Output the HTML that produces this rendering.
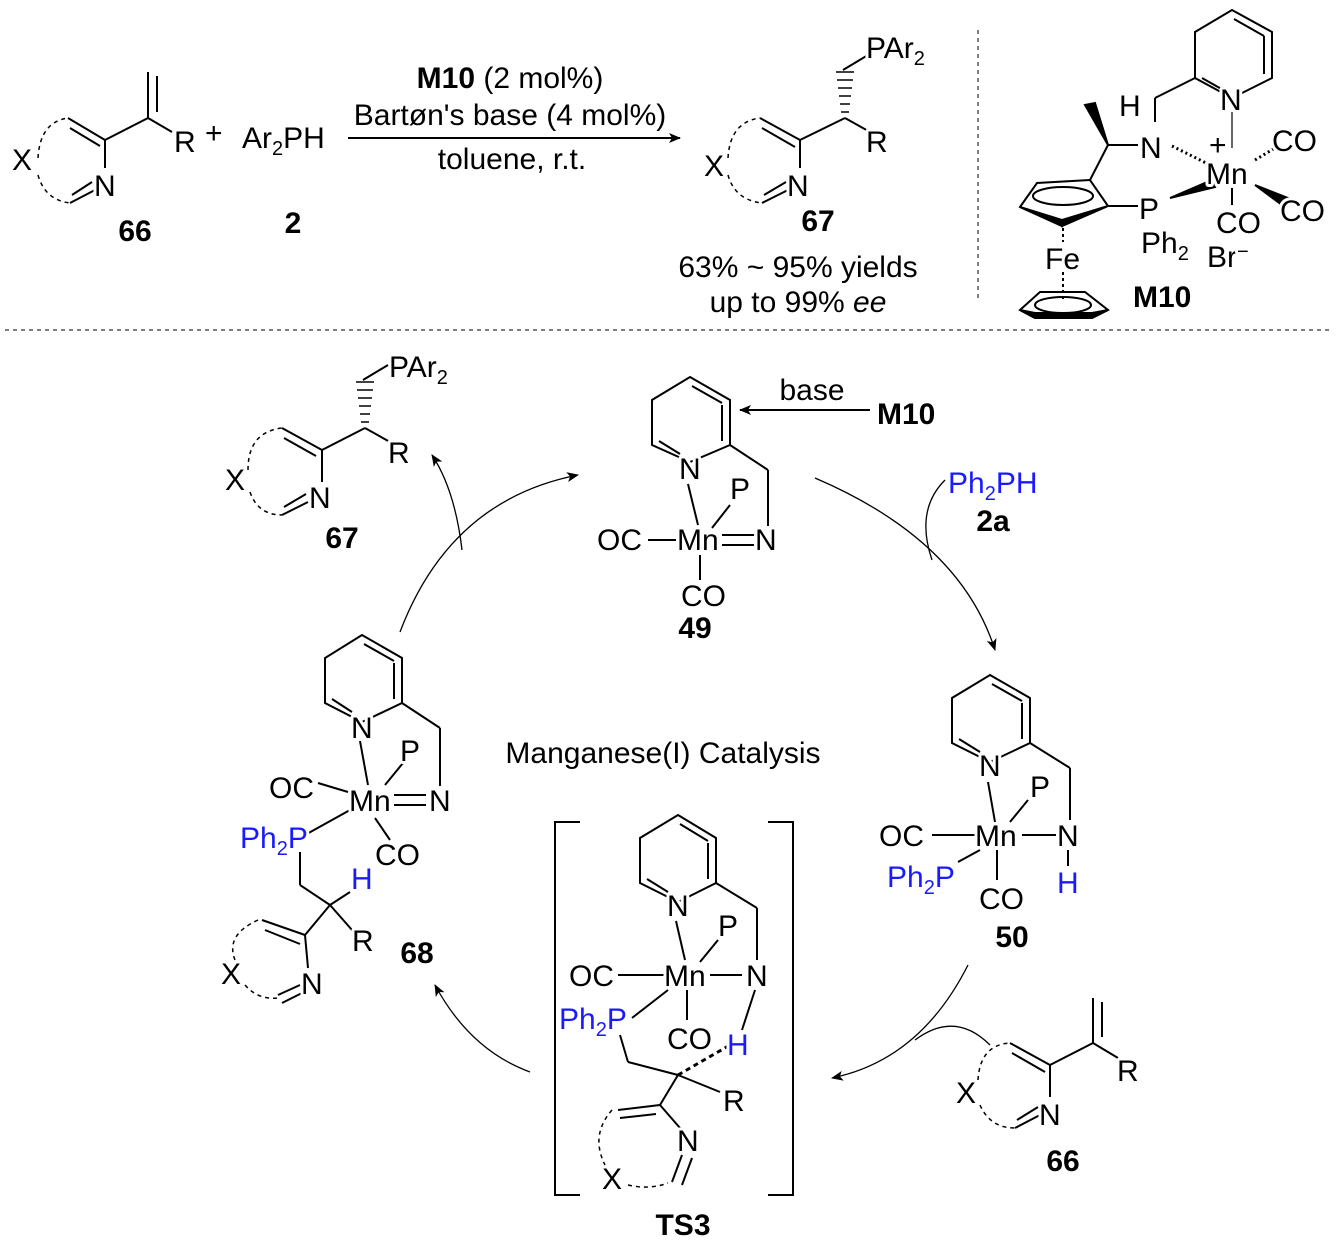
<!DOCTYPE html>
<html><head><meta charset="utf-8"><style>
html,body{margin:0;padding:0;background:#fff;}
svg{display:block;}
text{font-family:"Liberation Sans",sans-serif;font-size:30px;fill:#000;paint-order:stroke;stroke:#fff;stroke-width:6px;stroke-linejoin:round;}
.b{font-weight:bold;}
.bl{fill:#1a1aff;}
</style></head><body>
<svg width="1337" height="1256" viewBox="0 0 1337 1256" xmlns="http://www.w3.org/2000/svg">
<defs>
<marker id="ah" markerWidth="12" markerHeight="10" refX="11" refY="5" orient="auto" markerUnits="userSpaceOnUse">
<path d="M0,0 L12,5 L0,10 L3,5 Z" fill="#000"/></marker>
</defs>
<g stroke="#000" stroke-width="2" fill="none">
<!-- ===== top 66 ===== -->
<path d="M38,158 Q40,122 68,118" stroke-dasharray="4,4" stroke-width="1.5"/>
<path d="M38,175 Q45,200 70,203" stroke-dasharray="4,4" stroke-width="1.5"/>
<line x1="68" y1="118" x2="105" y2="140"/><line x1="70" y1="128" x2="100" y2="146"/>
<line x1="105" y1="140" x2="105" y2="168"/>
<line x1="70" y1="203" x2="95" y2="190"/><line x1="72" y1="195" x2="92" y2="182"/>
<line x1="105" y1="140" x2="148" y2="118"/>
<line x1="148" y1="118" x2="148" y2="72"/><line x1="157" y1="112" x2="157" y2="76"/>
<line x1="148" y1="118" x2="172" y2="132"/>
<line x1="348" y1="138" x2="680" y2="138" marker-end="url(#ah)"/>
<!-- top 67 -->
<path d="M728,158 Q730,122 760,118" stroke-dasharray="4,4" stroke-width="1.5"/>
<path d="M728,175 Q735,200 762,203" stroke-dasharray="4,4" stroke-width="1.5"/>
<line x1="760" y1="118" x2="800" y2="140"/><line x1="762" y1="128" x2="795" y2="147"/>
<line x1="800" y1="140" x2="800" y2="168"/>
<line x1="762" y1="203" x2="788" y2="190"/><line x1="764" y1="195" x2="786" y2="182"/>
<line x1="800" y1="140" x2="845" y2="118"/>
<line x1="845" y1="118" x2="870" y2="132"/>
<line x1="843" y1="70" x2="868" y2="55"/>
<g stroke-width="1.5"><line x1="841" y1="112" x2="849" y2="112"/><line x1="840" y1="104" x2="850" y2="104"/><line x1="839" y1="96" x2="851" y2="96"/><line x1="838" y1="88" x2="852" y2="88"/><line x1="837" y1="80" x2="853" y2="80"/><line x1="836" y1="72" x2="854" y2="72"/></g>
<line x1="978" y1="30" x2="978" y2="300" stroke-dasharray="4,4" stroke-width="1.5" stroke="#555"/>
<line x1="5" y1="330" x2="1332" y2="330" stroke-dasharray="4,4" stroke-width="1.5" stroke="#555"/>
<!-- ===== M10 ===== -->
<polygon points="1232,10 1272,32 1272,78 1232,98 1195,78 1195,32"/>
<line x1="1234" y1="19" x2="1264" y2="36"/><line x1="1264" y1="36" x2="1264" y2="74"/><line x1="1202" y1="78" x2="1225" y2="91"/>
<line x1="1195" y1="78" x2="1155" y2="98"/><line x1="1155" y1="98" x2="1155" y2="122"/>
<line x1="1232" y1="112" x2="1232" y2="148" stroke="#666"/>
<line x1="1108" y1="145" x2="1138" y2="145"/>
<polygon points="1108,145 1085,105 1095,103" fill="#000"/>
<line x1="1108" y1="145" x2="1090" y2="180"/>
<line x1="1172" y1="146" x2="1210" y2="165" stroke-dasharray="2,3" stroke-width="3"/>
<line x1="1255" y1="160" x2="1275" y2="148" stroke-dasharray="2,3" stroke-width="3"/>
<polygon points="1170,198 1212,180 1215,187" fill="#000"/>
<polygon points="1255,185 1288,198 1282,205" fill="#000"/>
<line x1="1232" y1="188" x2="1232" y2="205"/>
<polygon points="1090,180 1037,183 1020,207 1062,226 1108,206" />
<ellipse cx="1063" cy="196" rx="30" ry="9"/>
<polygon points="1062,226 1020,207 1062,220" fill="#000"/>
<polygon points="1062,226 1108,206 1062,220" fill="#000"/>
<line x1="1108" y1="206" x2="1138" y2="206"/>
<line x1="1063" y1="228" x2="1063" y2="242" stroke-dasharray="3,3"/>
<line x1="1063" y1="272" x2="1063" y2="300" stroke-dasharray="3,3"/>
<polygon points="1020,310 1040,292 1085,292 1108,310 1092,318 1035,318"/>
<ellipse cx="1063" cy="305" rx="28" ry="8"/>
<polygon points="1020,310 1035,318 1092,318 1108,310 1092,313 1035,313" fill="#000"/>
<!-- ===== 49 ===== -->
<polygon points="690,377 730,400 730,445 690,462 652,445 652,400"/>
<line x1="692" y1="386" x2="722" y2="403"/><line x1="722" y1="405" x2="722" y2="441"/><line x1="659" y1="441" x2="680" y2="454"/>
<line x1="730" y1="445" x2="768" y2="470"/><line x1="768" y1="470" x2="768" y2="526"/>
<line x1="688" y1="484" x2="698" y2="525"/>
<line x1="712" y1="528" x2="730" y2="505"/>
<line x1="648" y1="540" x2="676" y2="540"/>
<line x1="722" y1="535" x2="754" y2="535"/><line x1="722" y1="545" x2="754" y2="545"/>
<line x1="700" y1="555" x2="700" y2="580"/>
<line x1="870" y1="410" x2="740" y2="410" marker-end="url(#ah)"/>
<!-- ===== 50 ===== -->
<polygon points="990,675 1030,698 1030,743 990,762 952,743 952,698"/>
<line x1="992" y1="684" x2="1022" y2="701"/><line x1="1022" y1="703" x2="1022" y2="739"/><line x1="959" y1="739" x2="980" y2="752"/>
<line x1="1030" y1="743" x2="1070" y2="768"/><line x1="1070" y1="768" x2="1070" y2="820"/>
<line x1="988" y1="782" x2="995" y2="822"/>
<line x1="1010" y1="822" x2="1028" y2="800"/>
<line x1="932" y1="835" x2="975" y2="835"/>
<line x1="1022" y1="835" x2="1056" y2="835"/>
<line x1="1068" y1="850" x2="1068" y2="866"/>
<line x1="958" y1="862" x2="980" y2="850"/>
<line x1="997" y1="850" x2="997" y2="880"/>
<!-- ===== TS3 ===== -->
<polyline points="580,822 555,822 555,1195 580,1195"/>
<polyline points="768,822 793,822 793,1195 768,1195"/>
<polygon points="678,815 716,838 716,883 678,902 640,883 640,838"/>
<line x1="680" y1="824" x2="708" y2="841"/><line x1="708" y1="843" x2="708" y2="879"/><line x1="647" y1="879" x2="668" y2="892"/>
<line x1="716" y1="883" x2="757" y2="908"/><line x1="757" y1="908" x2="757" y2="960"/>
<line x1="676" y1="921" x2="685" y2="960"/>
<line x1="700" y1="962" x2="718" y2="940"/>
<line x1="618" y1="975" x2="666" y2="975"/>
<line x1="710" y1="975" x2="742" y2="975"/>
<line x1="755" y1="990" x2="742" y2="1030"/>
<line x1="632" y1="1018" x2="668" y2="990"/>
<line x1="687" y1="990" x2="687" y2="1020"/>
<line x1="620" y1="1035" x2="628" y2="1062"/>
<line x1="628" y1="1062" x2="678" y2="1075"/>
<line x1="678" y1="1075" x2="730" y2="1045" stroke-dasharray="5,4" stroke-width="3"/>
<line x1="678" y1="1075" x2="720" y2="1092"/>
<line x1="678" y1="1075" x2="660" y2="1105"/>
<line x1="660" y1="1105" x2="618" y2="1110"/><line x1="656" y1="1114" x2="620" y2="1118"/>
<line x1="660" y1="1105" x2="680" y2="1128"/>
<line x1="682" y1="1155" x2="672" y2="1182"/><line x1="692" y1="1158" x2="682" y2="1185"/>
<path d="M612,1110 Q590,1135 605,1165" stroke-dasharray="4,4" stroke-width="1.5"/>
<path d="M628,1185 Q650,1190 668,1183" stroke-dasharray="4,4" stroke-width="1.5"/>
<!-- ===== 68 ===== -->
<polygon points="362,635 402,658 402,703 362,722 325,703 325,658"/>
<line x1="364" y1="644" x2="394" y2="661"/><line x1="394" y1="663" x2="394" y2="699"/><line x1="332" y1="699" x2="352" y2="712"/>
<line x1="402" y1="703" x2="440" y2="728"/><line x1="440" y1="728" x2="440" y2="786"/>
<line x1="360" y1="741" x2="368" y2="785"/>
<line x1="385" y1="785" x2="403" y2="763"/>
<line x1="318" y1="783" x2="348" y2="792"/>
<line x1="394" y1="795" x2="426" y2="795"/><line x1="394" y1="805" x2="426" y2="805"/>
<line x1="305" y1="835" x2="350" y2="810"/>
<line x1="375" y1="818" x2="390" y2="840"/>
<line x1="300" y1="852" x2="300" y2="885"/>
<line x1="300" y1="885" x2="330" y2="905"/>
<line x1="330" y1="905" x2="350" y2="892"/>
<line x1="330" y1="905" x2="352" y2="930"/>
<line x1="330" y1="905" x2="305" y2="935"/>
<line x1="305" y1="935" x2="262" y2="920"/><line x1="300" y1="944" x2="265" y2="930"/>
<line x1="305" y1="935" x2="308" y2="968"/>
<line x1="278" y1="995" x2="300" y2="985"/><line x1="282" y1="1003" x2="302" y2="993"/>
<path d="M258,920 Q225,935 235,960" stroke-dasharray="4,4" stroke-width="1.5"/>
<path d="M245,985 Q258,1000 278,998" stroke-dasharray="4,4" stroke-width="1.5"/>
<!-- ===== cycle 67 ===== -->
<path d="M248,470 Q248,432 282,428" stroke-dasharray="4,4" stroke-width="1.5"/>
<path d="M250,492 Q258,515 282,515" stroke-dasharray="4,4" stroke-width="1.5"/>
<line x1="282" y1="428" x2="322" y2="450"/><line x1="284" y1="438" x2="316" y2="456"/>
<line x1="322" y1="450" x2="322" y2="482"/>
<line x1="282" y1="515" x2="308" y2="502"/><line x1="284" y1="507" x2="306" y2="494"/>
<line x1="322" y1="450" x2="365" y2="428"/>
<line x1="365" y1="428" x2="390" y2="442"/>
<line x1="363" y1="380" x2="388" y2="365"/>
<g stroke-width="1.5"><line x1="361" y1="422" x2="369" y2="422"/><line x1="360" y1="414" x2="370" y2="414"/><line x1="359" y1="406" x2="371" y2="406"/><line x1="358" y1="398" x2="372" y2="398"/><line x1="357" y1="390" x2="373" y2="390"/><line x1="356" y1="382" x2="374" y2="382"/></g>
<!-- ===== bottom 66 ===== -->
<path d="M978,1080 Q980,1045 1010,1043" stroke-dasharray="4,4" stroke-width="1.5"/>
<path d="M980,1105 Q990,1128 1015,1128" stroke-dasharray="4,4" stroke-width="1.5"/>
<line x1="1010" y1="1043" x2="1050" y2="1065"/><line x1="1012" y1="1053" x2="1045" y2="1072"/>
<line x1="1050" y1="1065" x2="1050" y2="1097"/>
<line x1="1015" y1="1128" x2="1040" y2="1115"/><line x1="1017" y1="1120" x2="1038" y2="1107"/>
<line x1="1050" y1="1065" x2="1093" y2="1043"/>
<line x1="1093" y1="1043" x2="1093" y2="998"/><line x1="1102" y1="1037" x2="1102" y2="1002"/>
<line x1="1093" y1="1043" x2="1118" y2="1058"/>
<!-- ===== cycle arcs ===== -->
<path d="M400,632 Q450,500 578,475" marker-end="url(#ah)" stroke-width="1.3"/>
<path d="M815,478 Q960,540 995,650" marker-end="url(#ah)" stroke-width="1.3"/>
<path d="M968,965 Q920,1060 832,1078" marker-end="url(#ah)" stroke-width="1.3"/>
<path d="M530,1072 Q470,1050 435,985" marker-end="url(#ah)" stroke-width="1.3"/>
<path d="M462,550 Q455,490 432,455" marker-end="url(#ah)" stroke-width="1.3"/>
<path d="M945,480 Q915,510 932,560" stroke-width="1.3"/>
<path d="M990,1045 Q955,1010 915,1040" stroke-width="1.3"/>
</g>
<!-- ===== text ===== -->
<text x="12" y="170">X</text><text x="94" y="196">N</text><text x="174" y="152">R</text>
<text x="135" y="241" class="b" text-anchor="middle">66</text>
<text x="205" y="143">+</text>
<text x="242" y="148">Ar<tspan font-size="20" dy="7">2</tspan><tspan dy="-7">PH</tspan></text>
<text x="293" y="233" class="b" text-anchor="middle">2</text>
<text x="510" y="88" text-anchor="middle"><tspan class="b">M10</tspan> (2 mol%)</text>
<text x="510" y="125" text-anchor="middle">Bartøn's base (4 mol%)</text>
<text x="512" y="169" text-anchor="middle">toluene, r.t.</text>
<text x="704" y="176">X</text><text x="787" y="196">N</text><text x="866" y="152">R</text>
<text x="866" y="58">PAr<tspan font-size="20" dy="7">2</tspan></text>
<text x="818" y="231" class="b" text-anchor="middle">67</text>
<text x="798" y="277" text-anchor="middle">63% ~ 95% yields</text>
<text x="798" y="312" text-anchor="middle">up to 99% <tspan font-style="italic">ee</tspan></text>
<!-- M10 -->
<text x="1220" y="110">N</text><text x="1119" y="116">H</text><text x="1140" y="158">N</text>
<text x="1209" y="155" font-size="20">+</text><text x="1206" y="184">Mn</text>
<text x="1272" y="151">CO</text><text x="1280" y="221">CO</text><text x="1216" y="233">CO</text>
<text x="1207" y="267">Br<tspan font-size="20" dy="-9">−</tspan></text>
<text x="1139" y="219">P</text><text x="1141" y="253">Ph<tspan font-size="20" dy="7">2</tspan></text>
<text x="1045" y="269">Fe</text>
<text x="1133" y="307" class="b">M10</text>
<!-- 49 -->
<text x="679" y="479">N</text><text x="730" y="499">P</text>
<text x="597" y="550">OC</text><text x="677" y="550">Mn</text><text x="755" y="550">N</text>
<text x="681" y="606">CO</text><text x="695" y="638" class="b" text-anchor="middle">49</text>
<text x="812" y="400" text-anchor="middle">base</text><text x="877" y="424" class="b">M10</text>
<text x="948" y="493" class="bl">Ph<tspan font-size="20" dy="7">2</tspan><tspan dy="-7">PH</tspan></text>
<text x="993" y="531" class="b" text-anchor="middle">2a</text>
<!-- 50 -->
<text x="979" y="776">N</text><text x="1030" y="797">P</text>
<text x="879" y="846">OC</text><text x="975" y="846">Mn</text><text x="1057" y="846">N</text>
<text x="1057" y="893" class="bl">H</text>
<text x="887" y="887" class="bl">Ph<tspan font-size="20" dy="7">2</tspan><tspan dy="-7">P</tspan></text>
<text x="979" y="909">CO</text>
<text x="1012" y="947" class="b" text-anchor="middle">50</text>
<text x="663" y="763" text-anchor="middle">Manganese(I) Catalysis</text>
<!-- TS3 -->
<text x="667" y="916">N</text><text x="718" y="936">P</text>
<text x="569" y="986">OC</text><text x="664" y="986">Mn</text><text x="746" y="986">N</text>
<text x="727" y="1055" class="bl">H</text>
<text x="559" y="1029" class="bl">Ph<tspan font-size="20" dy="7">2</tspan><tspan dy="-7">P</tspan></text>
<text x="667" y="1049">CO</text>
<text x="723" y="1111">R</text><text x="677" y="1151">N</text><text x="602" y="1189">X</text>
<text x="683" y="1235" class="b" text-anchor="middle">TS3</text>
<!-- 68 -->
<text x="351" y="738">N</text><text x="400" y="761">P</text>
<text x="269" y="798">OC</text><text x="349" y="811">Mn</text><text x="429" y="811">N</text>
<text x="240" y="848" class="bl">Ph<tspan font-size="20" dy="7">2</tspan><tspan dy="-7">P</tspan></text>
<text x="375" y="865">CO</text><text x="351" y="889" class="bl">H</text>
<text x="352" y="951">R</text><text x="301" y="994">N</text><text x="221" y="984">X</text>
<text x="417" y="963" class="b" text-anchor="middle">68</text>
<!-- cycle 67 -->
<text x="389" y="377">PAr<tspan font-size="20" dy="7">2</tspan></text>
<text x="388" y="463">R</text><text x="309" y="508">N</text><text x="225" y="490">X</text>
<text x="342" y="548" class="b" text-anchor="middle">67</text>
<!-- bottom 66 -->
<text x="956" y="1103">X</text><text x="1039" y="1125">N</text><text x="1117" y="1081">R</text>
<text x="1063" y="1171" class="b" text-anchor="middle">66</text>
</svg>
</body></html>
